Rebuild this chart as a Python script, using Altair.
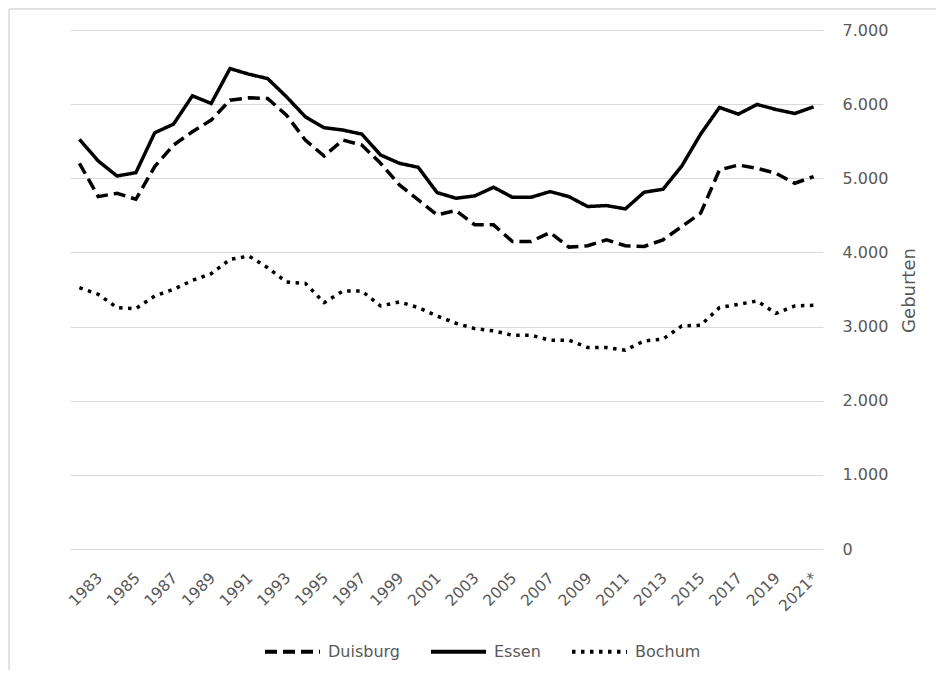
import altair as alt
import pandas as pd

years = [str(y) for y in range(1982, 2021)] + ["2021*"]

duisburg = [5202, 4753, 4798, 4717, 5157, 5448, 5628, 5785, 6054, 6085,
            6076, 5852, 5516, 5300, 5516, 5448, 5202, 4910, 4709, 4507,
            4565, 4372, 4372, 4148, 4148, 4269, 4072, 4090, 4170, 4090,
            4081, 4170, 4350, 4529, 5112, 5179, 5135, 5067, 4933, 5022]

essen = [5525, 5233, 5031, 5076, 5614, 5731, 6112, 6009, 6480, 6404,
         6345, 6099, 5830, 5682, 5650, 5596, 5314, 5202, 5148, 4807,
         4731, 4762, 4879, 4744, 4744, 4821, 4753, 4619, 4632, 4587,
         4812, 4852, 5166, 5596, 5955, 5865, 5996, 5928, 5874, 5964]

bochum = [3525, 3435, 3256, 3242, 3413, 3502, 3623, 3713, 3906, 3951,
          3794, 3601, 3583, 3323, 3480, 3480, 3278, 3332, 3256, 3143,
          3045, 2973, 2942, 2883, 2883, 2816, 2816, 2717, 2717, 2682,
          2807, 2830, 3009, 3018, 3256, 3300, 3345, 3179, 3278, 3287]

cities = ["Duisburg", "Essen", "Bochum"]
tick_labels = years[1::2]
y_ticks = [0, 1000, 2000, 3000, 4000, 5000, 6000, 7000]

rows = []
for city, vals in zip(cities, [duisburg, essen, bochum]):
    for yr, v in zip(years, vals):
        rows.append({"Jahr": yr, "Stadt": city, "Geburten": v})
df = pd.DataFrame(rows)

FONT = "DejaVu Sans"
GREY = "#595959"

lines = alt.Chart(df).mark_line(color="black", strokeWidth=3.5).encode(
    x=alt.X("Jahr:O", sort=years,
            scale=alt.Scale(type="point", padding=0.5),
            axis=alt.Axis(values=tick_labels, labelAngle=-45, labelFontSize=15.5,
                          labelColor=GREY, labelFont=FONT, labelPadding=21,
                          labelOffset=-4,
                          ticks=False, domain=False, grid=False, title=None)),
    y=alt.Y("Geburten:Q",
            scale=alt.Scale(domain=[0, 7000], nice=False),
            axis=alt.Axis(orient="right", values=y_ticks,
                          labelExpr="replace(format(datum.value, ','), ',', '.')",
                          labelFontSize=16, labelColor=GREY, labelFont=FONT,
                          labelPadding=19, labelAlign="left",
                          ticks=False, domain=False,
                          grid=True, gridColor="#d9d9d9", gridWidth=1,
                          title="Geburten", titleAngle=270, titleFontSize=18,
                          titleFont=FONT, titleColor=GREY, titleFontWeight="normal",
                          titleX=86, titleY=260, titleAlign="center",
                          titleBaseline="middle")),
    strokeDash=alt.StrokeDash("Stadt:N",
                              scale=alt.Scale(domain=cities,
                                              range=[[12, 6], [1, 0], [3.5, 5.5]]),
                              legend=alt.Legend(orient="none", legendX=193, legendY=592,
                                                direction="horizontal", title=None,
                                                symbolType="stroke", symbolSize=3025,
                                                symbolStrokeWidth=4,
                                                symbolStrokeColor="black",
                                                labelFontSize=16, labelColor=GREY,
                                                labelFont=FONT, labelOffset=6,
                                                columnPadding=23)),
)

frame_df = alt.Data(values=[{"a": 1}])
left_line = alt.Chart(frame_df).mark_rule(color="#d9d9d9", strokeWidth=1.5).encode(
    x=alt.value(-61), y=alt.value(-21), y2=alt.value(700))
top_line = alt.Chart(frame_df).mark_rule(color="#d9d9d9", strokeWidth=1.5).encode(
    x=alt.value(-61), x2=alt.value(900), y=alt.value(-21))

chart = alt.layer(left_line, top_line, lines).properties(
    width=753, height=519,
    autosize=alt.AutoSizeParams(type="none"),
    padding={"left": 62, "top": 22, "right": 113, "bottom": 121},
).configure_view(stroke="transparent")

chart.save("out.html", embed_options={"renderer": "svg", "actions": False})
